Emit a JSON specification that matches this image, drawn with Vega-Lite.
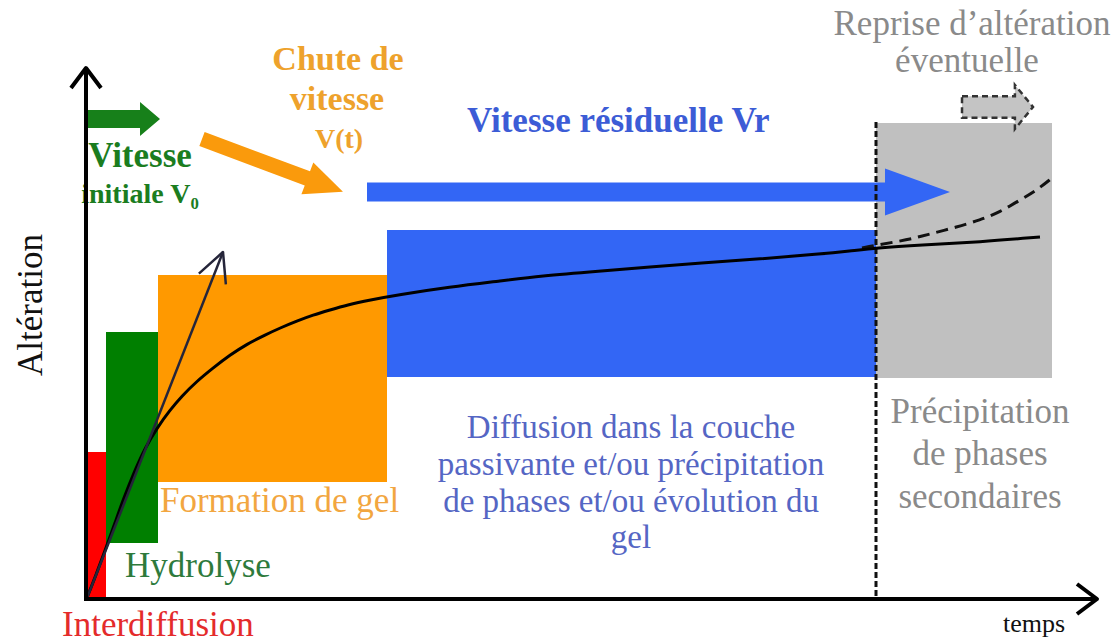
{
  "$schema": "https://vega.github.io/schema/vega-lite/v6.json",
  "width": 1118,
  "height": 643,
  "autosize": {"type": "none"},
  "padding": 0,
  "background": "white",
  "config": {"view": {"stroke": null}},
  "datasets": {
    "rects": [
      {"phase": "Interdiffusion", "x": 86, "x2": 106, "y": 452, "y2": 600},
      {"phase": "Hydrolyse", "x": 106, "x2": 158, "y": 332, "y2": 543},
      {"phase": "Gel", "x": 158, "x2": 387, "y": 275, "y2": 482},
      {"phase": "Residuelle", "x": 387, "x2": 876, "y": 230, "y2": 377},
      {"phase": "Secondaires", "x": 876, "x2": 1052, "y": 123, "y2": 378}
    ],
    "curve": [
      {"x": 86, "y": 600}, {"x": 96, "y": 575}, {"x": 106, "y": 548}, {"x": 115, "y": 523},
      {"x": 123, "y": 500}, {"x": 135, "y": 470}, {"x": 145, "y": 448}, {"x": 157, "y": 428},
      {"x": 170, "y": 410}, {"x": 182, "y": 396}, {"x": 196, "y": 382}, {"x": 213, "y": 368},
      {"x": 230, "y": 355}, {"x": 247, "y": 344}, {"x": 265, "y": 335}, {"x": 280, "y": 328},
      {"x": 297, "y": 321}, {"x": 313, "y": 315}, {"x": 330, "y": 310}, {"x": 347, "y": 305},
      {"x": 370, "y": 300}, {"x": 397, "y": 295}, {"x": 450, "y": 287}, {"x": 500, "y": 281},
      {"x": 540, "y": 276}, {"x": 600, "y": 271}, {"x": 650, "y": 267}, {"x": 700, "y": 263},
      {"x": 760, "y": 259}, {"x": 820, "y": 254}, {"x": 850, "y": 251}, {"x": 876, "y": 248},
      {"x": 920, "y": 245}, {"x": 980, "y": 242}, {"x": 1040, "y": 237}
    ],
    "dashcurve": [
      {"x": 862, "y": 248}, {"x": 877, "y": 245}, {"x": 907, "y": 240}, {"x": 930, "y": 234},
      {"x": 957, "y": 227}, {"x": 980, "y": 220}, {"x": 1000, "y": 212}, {"x": 1020, "y": 200},
      {"x": 1037, "y": 190}, {"x": 1052, "y": 178}
    ],
    "rules": [
      {"kind": "yaxis", "x": 86, "y": 601, "x2": 86, "y2": 68},
      {"kind": "xaxis", "x": 84, "y": 599, "x2": 1097, "y2": 599},
      {"kind": "limit", "x": 876, "y": 122, "x2": 876, "y2": 599},
      {"kind": "v0", "x": 87, "y": 598, "x2": 223, "y2": 252}
    ],
    "labels": [
      {"group": "chute", "label": "Chute de", "x": 338, "y": 70},
      {"group": "chute", "label": "vitesse", "x": 337, "y": 110},
      {"group": "chute_vt", "label": "V(t)", "x": 339, "y": 148},
      {"group": "v0big", "label": "Vitesse", "x": 140, "y": 167},
      {"group": "v0small", "label": "initiale V₀", "x": 140, "y": 203},
      {"group": "vr", "label": "Vitesse résiduelle Vr", "x": 467, "y": 132},
      {"group": "reprise", "label": "Reprise d’altération", "x": 972, "y": 35},
      {"group": "reprise", "label": "éventuelle", "x": 967, "y": 72},
      {"group": "alteration", "label": "Altération", "x": 42, "y": 305},
      {"group": "interdiff", "label": "Interdiffusion", "x": 62, "y": 636},
      {"group": "hydro", "label": "Hydrolyse", "x": 125, "y": 577},
      {"group": "gel", "label": "Formation de gel", "x": 160, "y": 512},
      {"group": "diffusion", "label": "Diffusion dans la couche", "x": 631, "y": 438},
      {"group": "diffusion", "label": "passivante et/ou précipitation", "x": 631, "y": 475},
      {"group": "diffusion", "label": "de phases et/ou évolution du", "x": 631, "y": 512},
      {"group": "diffusion", "label": "gel", "x": 631, "y": 548},
      {"group": "precip", "label": "Précipitation", "x": 980, "y": 423},
      {"group": "precip", "label": "de phases", "x": 980, "y": 465},
      {"group": "precip", "label": "secondaires", "x": 980, "y": 508},
      {"group": "temps", "label": "temps", "x": 1034, "y": 632}
    ]
  },
  "encoding": {
    "x": {"field": "x", "type": "quantitative", "scale": {"domain": [0, 1118], "nice": false, "zero": false}, "axis": null},
    "y": {"field": "y", "type": "quantitative", "scale": {"domain": [0, 643], "reverse": true, "nice": false, "zero": false}, "axis": null}
  },
  "layer": [
    {
      "data": {"name": "rects"},
      "mark": {"type": "rect", "opacity": 1},
      "encoding": {
        "x2": {"field": "x2"},
        "y2": {"field": "y2"},
        "color": {"field": "phase", "type": "nominal", "legend": null,
          "scale": {"domain": ["Interdiffusion", "Hydrolyse", "Gel", "Residuelle", "Secondaires"],
                    "range": ["#ff0000", "#007f00", "#ff9900", "#3366f5", "#c0c0c0"]}}
      }
    },
    {
      "data": {"values": [{"x": 86, "y": 119}]},
      "mark": {"type": "point", "filled": true, "opacity": 1, "color": "#17801a", "size": 5476,
               "shape": "M0,-0.24L1.46,-0.24L1.46,-0.46L2,0L1.46,0.46L1.46,0.24L0,0.24Z"}
    },
    {
      "data": {"values": [{"x": 202, "y": 139}]},
      "mark": {"type": "point", "filled": true, "opacity": 1, "color": "#fa9a0c", "size": 22650, "angle": 20.5,
               "shape": "M0,-0.1L1.495,-0.1L1.495,-0.226L2,0L1.495,0.226L1.495,0.1L0,0.1Z"}
    },
    {
      "data": {"values": [{"x": 367, "y": 192}]},
      "mark": {"type": "point", "filled": true, "opacity": 1, "color": "#3366f5", "size": 339889,
               "shape": "M0,-0.0326L1.777,-0.0326L1.777,-0.0806L2,0L1.777,0.0806L1.777,0.0326L0,0.0326Z"}
    },
    {
      "data": {"values": [{"x": 962, "y": 107}]},
      "mark": {"type": "point", "filled": true, "opacity": 1, "fill": "#c4c4c4", "stroke": "#333333",
               "strokeWidth": 2.5, "strokeDash": [6, 4], "size": 5041,
               "shape": "M0,-0.3L1.49,-0.3L1.49,-0.62L2,0L1.49,0.62L1.49,0.3L0,0.3Z"}
    },
    {
      "data": {"name": "labels"},
      "transform": [{"filter": "datum.group === 'chute'"}],
      "mark": {"type": "text", "font": "Times New Roman", "fontWeight": "bold", "fontSize": 34, "fill": "#eea22c", "align": "center", "baseline": "alphabetic"},
      "encoding": {"text": {"field": "label"}}
    },
    {
      "data": {"name": "labels"},
      "transform": [{"filter": "datum.group === 'chute_vt'"}],
      "mark": {"type": "text", "font": "Times New Roman", "fontWeight": "bold", "fontSize": 28, "fill": "#eea22c", "align": "center", "baseline": "alphabetic"},
      "encoding": {"text": {"field": "label"}}
    },
    {
      "data": {"name": "labels"},
      "transform": [{"filter": "datum.group === 'v0big'"}],
      "mark": {"type": "text", "font": "Times New Roman", "fontWeight": "bold", "fontSize": 35, "fill": "#1b7d1f", "align": "center", "baseline": "alphabetic"},
      "encoding": {"text": {"field": "label"}}
    },
    {
      "data": {"name": "labels"},
      "transform": [{"filter": "datum.group === 'v0small'"}],
      "mark": {"type": "text", "font": "Times New Roman", "fontWeight": "bold", "fontSize": 28, "fill": "#1b7d1f", "align": "center", "baseline": "alphabetic"},
      "encoding": {"text": {"field": "label"}}
    },
    {
      "data": {"name": "labels"},
      "transform": [{"filter": "datum.group === 'vr'"}],
      "mark": {"type": "text", "font": "Times New Roman", "fontWeight": "bold", "fontSize": 35, "fill": "#3c5cd6", "align": "left", "baseline": "alphabetic"},
      "encoding": {"text": {"field": "label"}}
    },
    {
      "data": {"name": "labels"},
      "transform": [{"filter": "datum.group === 'reprise' || datum.group === 'precip'"}],
      "mark": {"type": "text", "font": "serif", "fontSize": 35, "fill": "#8a8a8a", "align": "center", "baseline": "alphabetic"},
      "encoding": {"text": {"field": "label"}}
    },
    {
      "data": {"name": "labels"},
      "transform": [{"filter": "datum.group === 'alteration'"}],
      "mark": {"type": "text", "font": "Times New Roman", "fontSize": 35, "fill": "#111111", "align": "center", "baseline": "alphabetic", "angle": 270},
      "encoding": {"text": {"field": "label"}}
    },
    {
      "data": {"name": "labels"},
      "transform": [{"filter": "datum.group === 'interdiff'"}],
      "mark": {"type": "text", "font": "Times New Roman", "fontSize": 35, "fill": "#e42b2b", "align": "left", "baseline": "alphabetic"},
      "encoding": {"text": {"field": "label"}}
    },
    {
      "data": {"name": "labels"},
      "transform": [{"filter": "datum.group === 'hydro'"}],
      "mark": {"type": "text", "font": "Times New Roman", "fontSize": 35, "fill": "#2e7a3c", "align": "left", "baseline": "alphabetic"},
      "encoding": {"text": {"field": "label"}}
    },
    {
      "data": {"name": "labels"},
      "transform": [{"filter": "datum.group === 'gel'"}],
      "mark": {"type": "text", "font": "Times New Roman", "fontSize": 35, "fill": "#f2a640", "align": "left", "baseline": "alphabetic"},
      "encoding": {"text": {"field": "label"}}
    },
    {
      "data": {"name": "labels"},
      "transform": [{"filter": "datum.group === 'diffusion'"}],
      "mark": {"type": "text", "font": "Times New Roman", "fontSize": 33, "fill": "#5566c4", "align": "center", "baseline": "alphabetic"},
      "encoding": {"text": {"field": "label"}}
    },
    {
      "data": {"name": "labels"},
      "transform": [{"filter": "datum.group === 'temps'"}],
      "mark": {"type": "text", "font": "Times New Roman", "fontSize": 26, "fill": "#111111", "align": "center", "baseline": "alphabetic"},
      "encoding": {"text": {"field": "label"}}
    },
    {
      "data": {"name": "rules"},
      "transform": [{"filter": "datum.kind === 'limit'"}],
      "mark": {"type": "rule", "color": "#111111", "strokeWidth": 3, "strokeDash": [6, 3]},
      "encoding": {"x2": {"field": "x2"}, "y2": {"field": "y2"}}
    },
    {
      "data": {"name": "dashcurve"},
      "mark": {"type": "line", "color": "#111111", "strokeWidth": 3, "strokeDash": [12, 7], "interpolate": "basis"}
    },
    {
      "data": {"name": "curve"},
      "mark": {"type": "line", "color": "#000000", "strokeWidth": 3, "interpolate": "basis"}
    },
    {
      "data": {"name": "rules"},
      "transform": [{"filter": "datum.kind === 'v0'"}],
      "mark": {"type": "rule", "color": "#25253a", "strokeWidth": 2.5},
      "encoding": {"x2": {"field": "x2"}, "y2": {"field": "y2"}}
    },
    {
      "data": {"name": "rules"},
      "transform": [{"filter": "datum.kind === 'yaxis' || datum.kind === 'xaxis'"}],
      "mark": {"type": "rule", "color": "#000000", "strokeWidth": 4},
      "encoding": {"x2": {"field": "x2"}, "y2": {"field": "y2"}}
    },
    {
      "data": {"values": [{"x": 86, "y": 68}]},
      "mark": {"type": "point", "filled": false, "opacity": 1, "color": "#000000", "strokeWidth": 4, "strokeJoin": "round",
               "size": 1600, "angle": -90, "shape": "M-1,-0.75L0,0L-1,0.75"}
    },
    {
      "data": {"values": [{"x": 1097, "y": 599}]},
      "mark": {"type": "point", "filled": false, "opacity": 1, "color": "#000000", "strokeWidth": 4, "strokeJoin": "round",
               "size": 1600, "angle": 0, "shape": "M-1,-0.75L0,0L-1,0.75"}
    },
    {
      "data": {"values": [{"x": 223, "y": 252}]},
      "mark": {"type": "point", "filled": false, "opacity": 1, "color": "#25253a", "strokeWidth": 2.5, "strokeJoin": "round",
               "size": 3364, "angle": -68.5, "shape": "M-1,-0.5L0,0L-1,0.5"}
    }
  ]
}
